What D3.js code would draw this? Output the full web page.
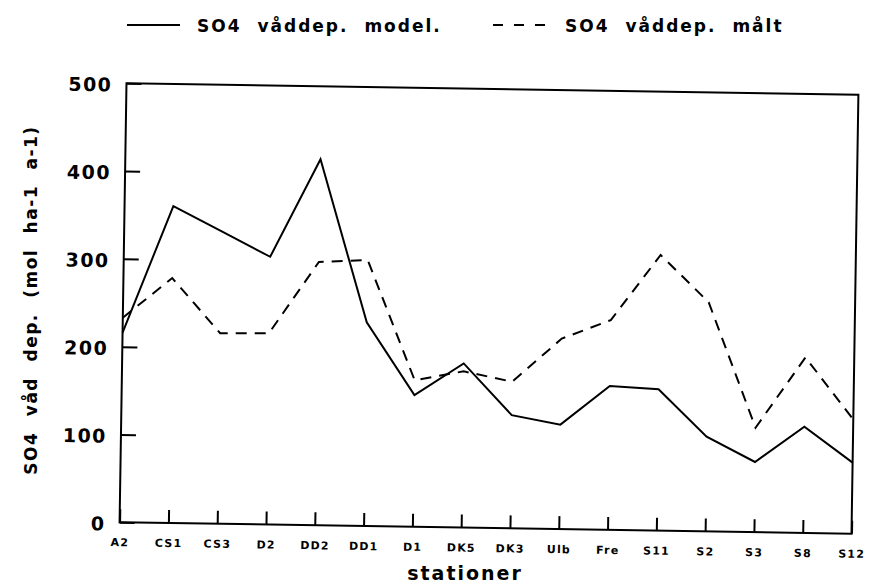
<!DOCTYPE html>
<html>
	<head>
		<meta charset="utf-8">
		<script src="https://d3js.org/d3.v7.min.js"></script>
		<style>
			body { margin: 0; background: #fff; }
			text { font-family: 'DejaVu Sans', sans-serif; font-weight: bold; fill: #000; }
		</style>
	</head>
	<body>
		<script type="text/javascript">
			// stations along the x axis
			var stations = ['A2', 'CS1', 'CS3', 'D2', 'DD2', 'DD1', 'D1', 'DK5',
				'DK3', 'Ulb', 'Fre', 'S11', 'S2', 'S3', 'S8', 'S12'];
			// SO4 wet deposition, model (solid line)
			var model = [216, 361, 333, 305, 417, 232, 150, 187,
				129, 119, 164, 161, 108, 80, 121, 81];
			// SO4 wet deposition, measured (dashed line)
			var measured = [233, 279, 217, 218, 300, 303, 167, 178,
				167, 217, 239, 314, 261, 119, 200, 130];
			var yTicks = [0, 100, 200, 300, 400, 500];

			function draw() {
				var width = 879, height = 585;
				var pLeft = 123, pRight = 855, pTop = 89, pBottom = 528;

				var svg = d3.select('body').append('svg')
					.attr('width', width)
					.attr('height', height);

				// the scanned plot sits slightly tilted
				var plot = svg.append('g')
					.attr('transform', 'rotate(0.9, 489, 308)');

				var x = d3.scalePoint().domain(stations).range([pLeft, pRight]);
				var y = d3.scaleLinear().domain([0, 500]).range([pBottom, pTop]);

				// frame
				plot.append('rect')
					.attr('x', pLeft).attr('y', pTop)
					.attr('width', pRight - pLeft).attr('height', pBottom - pTop)
					.attr('fill', 'none').attr('stroke', '#000').attr('stroke-width', 2);

				// x ticks pointing inwards
				var xAxis = d3.axisBottom(x).tickSizeInner(-13).tickSizeOuter(0).tickPadding(24);
				var gx = plot.append('g')
					.attr('transform', 'translate(0,' + pBottom + ')')
					.call(xAxis);
				gx.select('.domain').remove();
				gx.selectAll('line').attr('stroke-width', 2);
				gx.selectAll('text')
					.style('font-size', '11px')
					.style('letter-spacing', '1.2px')
					.attr('dy', '0');

				var yAxis = d3.axisLeft(y).tickValues(yTicks).tickSizeInner(-15).tickSizeOuter(0).tickPadding(14);
				var gy = plot.append('g')
					.attr('transform', 'translate(' + pLeft + ',0)')
					.call(yAxis);
				gy.select('.domain').remove();
				gy.selectAll('line').attr('stroke-width', 2);
				gy.selectAll('text')
					.style('font-size', '19px')
					.style('letter-spacing', '1.5px')
					.attr('dy', '0.42em');

				var line = d3.line()
					.x(function (d, i) { return x(stations[i]); })
					.y(function (d) { return y(d); });

				plot.append('path')
					.datum(model)
					.attr('d', line)
					.attr('fill', 'none').attr('stroke', '#000').attr('stroke-width', 2);

				plot.append('path')
					.datum(measured)
					.attr('d', line)
					.attr('fill', 'none').attr('stroke', '#000').attr('stroke-width', 2)
					.attr('stroke-dasharray', '11,8');

				// axis titles
				svg.append('text')
					.attr('x', 465).attr('y', 580)
					.attr('text-anchor', 'middle')
					.style('font-size', '19px')
					.style('letter-spacing', '2px')
					.text('stationer');

				svg.append('text')
					.attr('transform', 'translate(37,300) rotate(-90)')
					.attr('text-anchor', 'middle')
					.style('font-size', '17px')
					.style('letter-spacing', '1.5px')
					.style('word-spacing', '8px')
					.text('SO4 våd dep. (mol ha-1 a-1)');

				// legend
				var legend = svg.append('g');
				legend.append('line')
					.attr('x1', 127).attr('x2', 180).attr('y1', 25).attr('y2', 25)
					.attr('stroke', '#000').attr('stroke-width', 2);
				legend.append('text')
					.attr('x', 197).attr('y', 32)
					.style('font-size', '17px')
					.style('letter-spacing', '2px')
					.style('word-spacing', '8px')
					.text('SO4 våddep. model.');
				legend.append('line')
					.attr('x1', 493).attr('x2', 547).attr('y1', 25).attr('y2', 25)
					.attr('stroke', '#000').attr('stroke-width', 2)
					.attr('stroke-dasharray', '10,11');
				legend.append('text')
					.attr('x', 565).attr('y', 32)
					.style('font-size', '17px')
					.style('letter-spacing', '2px')
					.style('word-spacing', '8px')
					.text('SO4 våddep. målt');
			}

			draw();
		</script>
	</body>
</html>
